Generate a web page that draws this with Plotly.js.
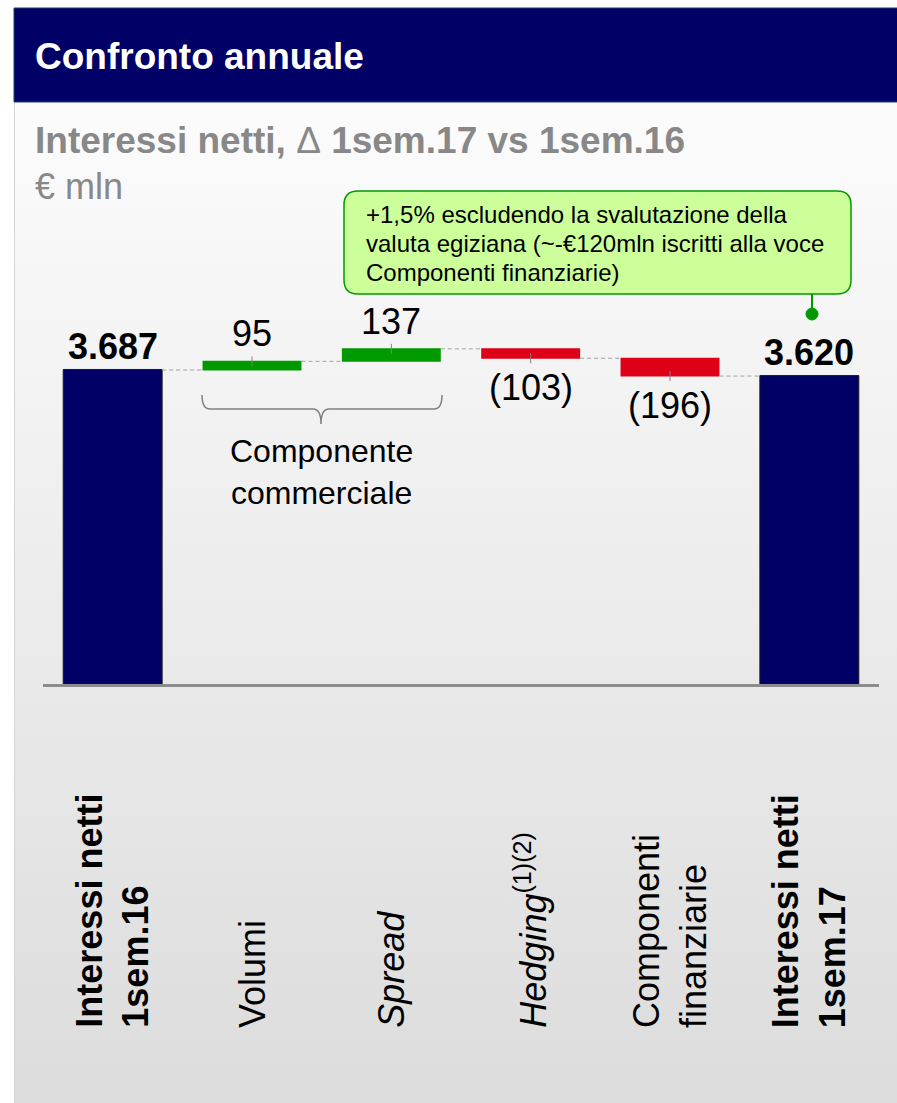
<!DOCTYPE html>
<html><head><meta charset="utf-8">
<script src="https://cdn.plot.ly/plotly-3.0.1.min.js"></script>
<style>
html,body{margin:0;padding:0;background:#fff;}
#wrap{position:relative;width:897px;height:1103px;overflow:hidden;}
#bg{position:absolute;left:14px;top:8px;width:900px;height:1095px;background:linear-gradient(to bottom,#ffffff 0px,#fbfbfb 120px,#dcdcdc 1095px);border-left:1px solid #d4d4d4;}
#chart{position:absolute;left:0;top:0;width:897px;height:1103px;}
</style></head>
<body><div id="wrap"><div id="bg"></div><div id="chart"></div></div>
<script>
// ---- data ----
const categories = ["Interessi netti<br>1sem.16", "Volumi", "<i>Spread</i>", "<i>Hedging</i><sup>(1)(2)</sup>", "Componenti<br>finanziarie", "Interessi netti<br>1sem.17"];
const measures = ["absolute", "relative", "relative", "relative", "relative", "total"];
const values = [3687, 95, 137, -103, -196, 3620];
const titleText = "Confronto annuale";
const subtitleText = "Interessi netti, <span style=\"font-weight:normal\">Δ</span> 1sem.17 vs 1sem.16";
const unitText = "€ mln";
const noteLines = ["+1,5% escludendo la svalutazione della", "valuta egiziana (~-€120mln iscritti alla voce", "Componenti finanziarie)"];
const groupLabel = "Componente<br>commerciale";

// ---- layout helpers (pixel -> paper) ----
const W = 897, H = 1103, M = {l: 43, r: 18, t: 200, b: 419};
const PW = W - M.l - M.r, PH = H - M.t - M.b;
const px = p => (p - M.l) / PW;
const py = p => (H - M.b - p) / PH;
const FONT = "Liberation Sans, Arial, sans-serif";

function fmt(v, total) {
  const s = Math.abs(v).toString().replace(/\B(?=(\d{3})+(?!\d))/g, ".");
  if (total) return "<b>" + s + "</b>";
  return v < 0 ? "(" + s + ")" : s;
}

// running levels
let cum = 0;
const ends = [], starts = [];
measures.forEach((m, i) => {
  if (m === "absolute") { starts.push(0); cum = values[i]; ends.push(cum); }
  else if (m === "relative") { starts.push(cum); cum += values[i]; ends.push(cum); }
  else { starts.push(0); ends.push(cum); }
});

const trace = {
  type: "waterfall",
  x: categories,
  y: values,
  measure: measures,
  textinfo: "none",
  hoverinfo: "skip",
  connector: {mode: "between", line: {color: "#a0a0a0", width: 1, dash: "4px,3px"}},
  increasing: {marker: {color: "#009900", line: {width: 0}}},
  decreasing: {marker: {color: "#dd0016", line: {width: 0}}},
  totals: {marker: {color: "#000066", line: {color: "#1a1a1a", width: 1}}}
};

const annotations = [];
const shapes = [];

// header band
shapes.push({type: "rect", xref: "paper", yref: "paper", x0: px(14), x1: px(900), y0: py(102), y1: py(8),
  fillcolor: "#000066", line: {color: "#24406b", width: 1}, layer: "above"});

// value labels + small leader ticks
categories.forEach((c, i) => {
  const m = measures[i];
  const isTotal = m !== "relative";
  const v = isTotal ? ends[i] : values[i];
  const up = isTotal || values[i] >= 0;
  annotations.push({
    xref: "x", yref: "y", x: c, y: ends[i], text: fmt(v, isTotal), showarrow: false,
    xanchor: "center", yanchor: up ? "bottom" : "top", yshift: isTotal ? 1 : (up ? 5 : -7),
    font: {family: FONT, size: 36, color: "#000"}
  });
  if (!isTotal) {
    shapes.push({type: "line", xref: "x", yref: "y", x0: c, x1: c, ysizemode: "pixel", yanchor: ends[i],
      y0: -5, y1: 5, line: {color: "#808080", width: 1}, layer: "above"});
  }
});

// category labels (rotated)
categories.forEach((c, i) => {
  const isTotal = measures[i] !== "relative";
  annotations.push({
    xref: "x", yref: "paper", x: c, y: py(1030), text: isTotal ? "<b>" + c + "</b>" : c,
    textangle: -90, showarrow: false, xanchor: "center", yanchor: "bottom", align: "left",
    font: {family: FONT, size: 36, color: "#000"}
  });
});

// subtitle & unit
annotations.push({xref: "paper", yref: "paper", x: px(33), y: py(140), xanchor: "left", yanchor: "middle",
  text: "<b>" + subtitleText + "</b>", showarrow: false, font: {family: FONT, size: 37, color: "#888888"}});
annotations.push({xref: "paper", yref: "paper", x: px(33), y: py(186), xanchor: "left", yanchor: "middle",
  text: unitText, showarrow: false, font: {family: FONT, size: 36, color: "#888888"}});

// callout box
(function () {
  const x1 = 344, x2 = 851, y1 = 191, y2 = 294, r = 14;
  const P = (x, y) => px(x) + "," + py(y);
  const path = "M" + P(x1 + r, y1) + " L" + P(x2 - r, y1) + " Q" + P(x2, y1) + " " + P(x2, y1 + r) +
    " L" + P(x2, y2 - r) + " Q" + P(x2, y2) + " " + P(x2 - r, y2) +
    " L" + P(x1 + r, y2) + " Q" + P(x1, y2) + " " + P(x1, y2 - r) +
    " L" + P(x1, y1 + r) + " Q" + P(x1, y1) + " " + P(x1 + r, y1) + " Z";
  shapes.push({type: "path", xref: "paper", yref: "paper", path: path, fillcolor: "#ccff99",
    line: {color: "#009900", width: 1.5}, layer: "above"});
  shapes.push({type: "line", xref: "paper", yref: "paper", x0: px(812), x1: px(812), y0: py(294), y1: py(312),
    line: {color: "#009900", width: 2}, layer: "above"});
  shapes.push({type: "circle", xref: "paper", yref: "paper", x0: px(806), x1: px(818), y0: py(320), y1: py(308),
    fillcolor: "#009900", line: {color: "#009900", width: 1}, layer: "above"});
  noteLines.forEach((t, k) => {
    annotations.push({xref: "paper", yref: "paper", x: px(364), y: py(215 + k * 28.5), xanchor: "left", yanchor: "middle",
      text: t, showarrow: false, font: {family: FONT, size: 24, color: "#000"}});
  });
})();

// brace under Volumi & Spread
(function () {
  const P = (x, y) => px(x) + "," + py(y);
  const path = "M" + P(202, 395) + " Q" + P(202, 409) + " " + P(210, 409) +
    " L" + P(313, 409) + " Q" + P(321, 409) + " " + P(321, 424) +
    " Q" + P(321, 409) + " " + P(329, 409) + " L" + P(434, 409) +
    " Q" + P(442, 409) + " " + P(442, 395);
  shapes.push({type: "path", xref: "paper", yref: "paper", path: path, line: {color: "#808080", width: 1.5}, layer: "above"});
  annotations.push({xref: "paper", yref: "paper", x: px(321), y: py(472), xanchor: "center", yanchor: "middle",
    text: groupLabel, showarrow: false, font: {family: FONT, size: 32, color: "#000"}});
})();

const layout = {
  width: W, height: H,
  margin: M,
  paper_bgcolor: "rgba(0,0,0,0)",
  plot_bgcolor: "rgba(0,0,0,0)",
  showlegend: false,
  waterfallgap: 0.29,
  title: {text: "<b>" + titleText + "</b>", xref: "container", yref: "container", x: 35 / W, xanchor: "left",
    y: 1 - 56 / H, yanchor: "middle", font: {family: FONT, size: 37, color: "#ffffff"}},
  xaxis: {type: "category", range: [-0.5, 5.5], showticklabels: false, ticks: "", showgrid: false, zeroline: false,
    showline: true, linecolor: "#8c8c8c", linewidth: 3, fixedrange: true},
  yaxis: {range: [236, 5555], visible: false, showgrid: false, zeroline: false, fixedrange: true},
  shapes: shapes,
  annotations: annotations,
  font: {family: FONT}
};

Plotly.newPlot("chart", [trace], layout, {staticPlot: true, displayModeBar: false});
</script>
</body></html>
